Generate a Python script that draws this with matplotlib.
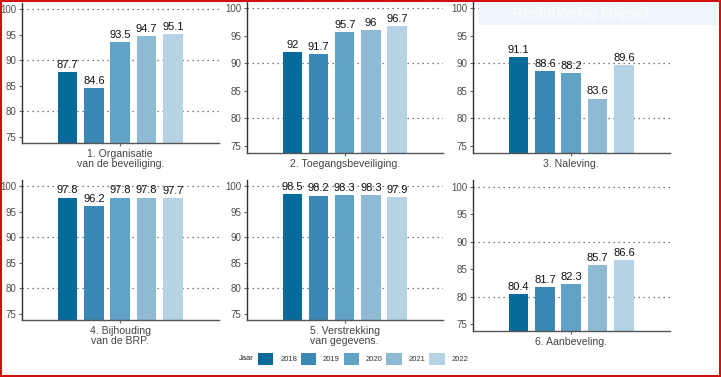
import matplotlib
matplotlib.use('Agg')
import matplotlib.pyplot as plt
from matplotlib.patches import Patch, Rectangle

plt.rcParams['font.family'] = ['Liberation Sans', 'DejaVu Sans']

years = ['2018', '2019', '2020', '2021', '2022']
colors = ['#076a9b', '#3b88b5', '#62a2c6', '#8fbad4', '#b5d3e4']

categories = ['1. Organisatie\nvan de beveiliging.',
              '2. Toegangsbeveiliging.',
              '3. Naleving.',
              '4. Bijhouding\nvan de BRP.',
              '5. Verstrekking\nvan gegevens.',
              '6. Aanbeveling.']

scores = [
    [87.7, 84.6, 93.5, 94.7, 95.1],
    [92, 91.7, 95.7, 96, 96.7],
    [91.1, 88.6, 88.2, 83.6, 89.6],
    [97.8, 96.2, 97.8, 97.8, 97.7],
    [98.5, 98.2, 98.3, 98.3, 97.9],
    [80.4, 81.7, 82.3, 85.7, 86.6],
]

W, H = 721, 377
# panel boxes in pixels: left, right, top, bottom
boxes = [
    (22, 219, 3, 143),
    (247, 443, 1, 153),
    (473, 670, 1, 153),
    (22, 219, 180, 320),
    (247, 443, 180, 320),
    (473, 670, 180, 331),
]

fig = plt.figure(figsize=(W / 100, H / 100), dpi=100)

# faint screenshot-tool overlay in the top right
fig.patches.append(Rectangle((479 / W, 1 - 25 / H), 238 / W, 22 / H,
                             transform=fig.transFigure, facecolor='#eff6fb',
                             edgecolor='none', zorder=0))
fig.text(512 / W, 1 - 14 / H, 'Rechthoekig knipsel', fontsize=11,
         color='#fafcfe', va='center', ha='left', zorder=5)

for cat, vals, (l, r, t, b) in zip(categories, scores, boxes):
    ax = fig.add_axes([l / W, 1 - b / H, (r - l) / W, (b - t) / H])
    ax.set_facecolor('none')
    xs = range(len(vals))
    bars = ax.bar(xs, vals, width=0.74, color=colors, zorder=2)
    for bar, v in zip(bars, vals):
        ax.annotate(f'{v:g}', (bar.get_x() + bar.get_width() / 2, v),
                    xytext=(0, 1.5), textcoords='offset points',
                    ha='center', va='bottom', fontsize=8, color='#111111', zorder=3)
    ax.set_xlim(-1.73, 5.75)
    ax.set_ylim(73.75, 101.25)
    ax.set_yticks([75, 80, 85, 90, 95, 100])
    for g in [80, 90, 100]:
        ax.axhline(g, color='#555555', linestyle=(0, (1, 3)), linewidth=0.9, zorder=1)
    ax.set_xticks([2])
    ax.set_xticklabels([cat], linespacing=1.0)
    ax.tick_params(axis='y', labelsize=7, labelcolor='#4d4d4d', color='#666666',
                   length=2.5, width=0.8, pad=1.5)
    ax.tick_params(axis='x', labelsize=7.6, labelcolor='#444444', color='#666666',
                   length=2.5, width=0.8, pad=1.5)
    for s in ['top', 'right']:
        ax.spines[s].set_visible(False)
    ax.spines['left'].set_color('#333333')
    ax.spines['bottom'].set_color('#555555')
    ax.spines['left'].set_linewidth(1.0)
    ax.spines['bottom'].set_linewidth(1.0)

fig.text(239 / W, 1 - 359 / H, 'Jaar', fontsize=5.5, color='#222222', va='center', ha='left')
handles = [Patch(facecolor=c, edgecolor='none', label=y) for c, y in zip(colors, years)]
fig.legend(handles=handles, loc='center left', bbox_to_anchor=(258 / W, 1 - 359 / H),
           ncol=5, frameon=False, fontsize=5.5, handlelength=2.0, handleheight=1.9,
           handletextpad=0.9, columnspacing=0.5, borderpad=0, borderaxespad=0,
           labelcolor='#333333')

# red frame around the screenshot
fig.patches.append(Rectangle((0.001, 0.002), 0.997, 0.995, transform=fig.transFigure,
                             facecolor='none', edgecolor='#d01010', linewidth=1.5, zorder=10))

fig.savefig('out.png', dpi=100)
